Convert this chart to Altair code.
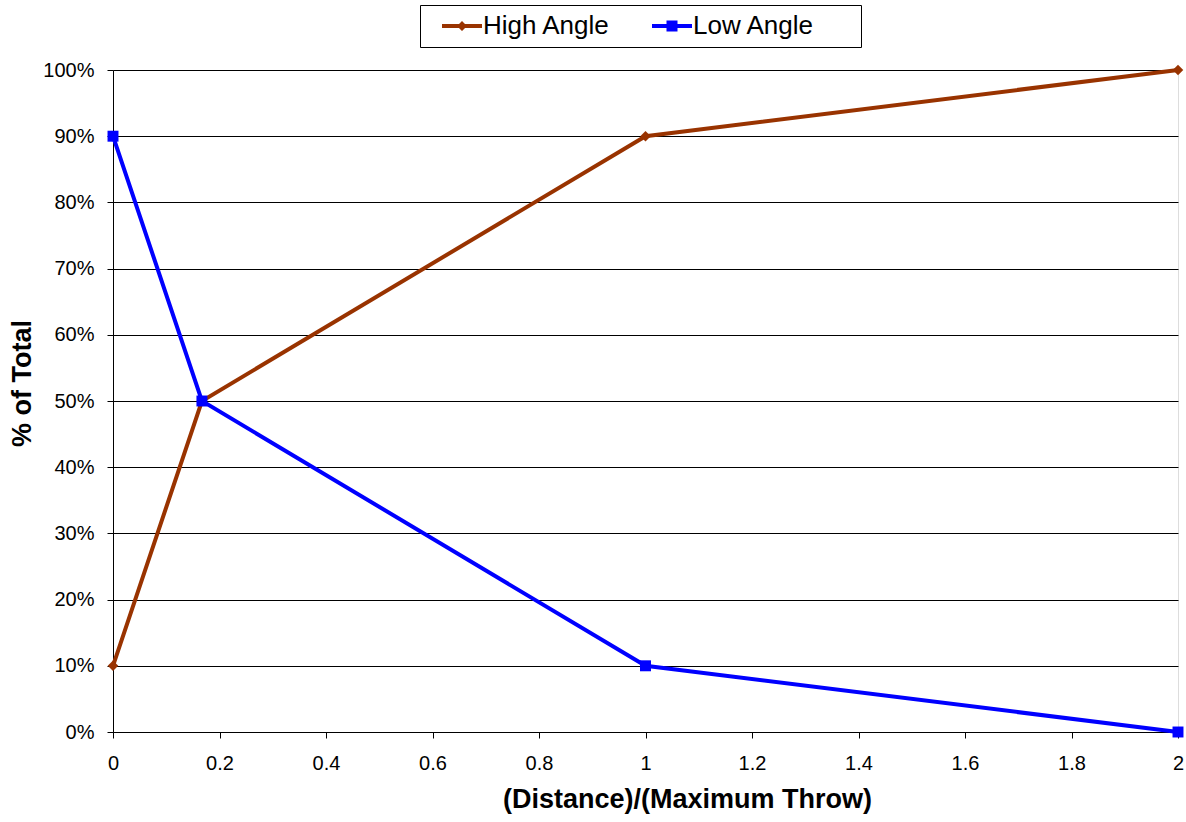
import altair as alt
import pandas as pd

# ---- data ----
ratio = [0, 0.167, 1, 2]
high_angle = [0.10, 0.50, 0.90, 1.00]
low_angle = [0.90, 0.50, 0.10, 0.00]
series_names = ["High Angle", "Low Angle"]
series_colors = ["#993300", "#0000FF"]
x_ticks = [0, 0.2, 0.4, 0.6, 0.8, 1, 1.2, 1.4, 1.6, 1.8, 2]
y_ticks = [0, 0.1, 0.2, 0.3, 0.4, 0.5, 0.6, 0.7, 0.8, 0.9, 1.0]

rows = []
for x, h in zip(ratio, high_angle):
    rows.append({"ratio": x, "share": h, "series": series_names[0]})
for x, l in zip(ratio, low_angle):
    rows.append({"ratio": x, "share": l, "series": series_names[1]})
df = pd.DataFrame(rows)

FONT = "Liberation Sans"
BLANK = chr(0x2800)  # invisible, non-whitespace filler to widen the legend box

# legend symbols: line segment + marker (custom paths)
path_high = "M0.2,-0.4L8.2,-0.4L8.2,0.4L0.2,0.4Z M4.2,-1L5.2,0L4.2,1L3.2,0Z"
path_low = "M0.2,-0.4L8.2,-0.4L8.2,0.4L0.2,0.4Z M3.1,-1.1L5.3,-1.1L5.3,1.1L3.1,1.1Z"

xenc = alt.X(
    "ratio:Q",
    scale=alt.Scale(domain=[0, 2], nice=False, zero=False),
    axis=alt.Axis(
        values=x_ticks, format="~g", title="(Distance)/(Maximum Throw)",
        grid=False, tickSize=6, labelPadding=15, titlePadding=13, titleX=574,
        labelFontSize=20, titleFontSize=27, titleFontWeight="bold",
        labelFont=FONT, titleFont=FONT, labelColor="black", titleColor="black",
        domainColor="black", tickColor="black", labelFlush=False,
    ),
)
yenc = alt.Y(
    "share:Q",
    scale=alt.Scale(domain=[0, 1], nice=False),
    axis=alt.Axis(
        values=y_ticks, format=".0%", title="% of Total",
        grid=True, gridColor="black", gridWidth=1, gridOpacity=1,
        tickSize=6, labelPadding=13, titlePadding=6, titleY=313,
        labelFontSize=20, titleFontSize=27, titleFontWeight="bold",
        labelFont=FONT, titleFont=FONT, labelColor="black", titleColor="black",
        domainColor="black", tickColor="black",
    ),
)

base = alt.Chart(df)

high_line = base.transform_filter(alt.datum.series == series_names[0]).mark_line(
    color=series_colors[0], strokeWidth=4
).encode(x=xenc, y=yenc)
high_pts = base.transform_filter(alt.datum.series == series_names[0]).mark_point(
    shape="diamond", filled=True, size=110, color=series_colors[0], opacity=1
).encode(x=xenc, y=yenc)
low_line = base.transform_filter(alt.datum.series == series_names[1]).mark_line(
    color=series_colors[1], strokeWidth=4
).encode(x=xenc, y=yenc)
low_pts = base.transform_filter(alt.datum.series == series_names[1]).mark_point(
    shape="square", filled=True, size=120, color=series_colors[1], opacity=1
).encode(x=xenc, y=yenc)

legend_def = alt.Legend(
    title=None, orient="none", legendX=307, legendY=-65, direction="horizontal",
    padding=8, columnPadding=27, labelOffset=29, symbolSize=100,
    symbolStrokeWidth=0, symbolOpacity=1, strokeColor="black", fillColor="white",
    labelFontSize=26, labelFont=FONT, labelColor="black", labelLimit=400,
    labelExpr="datum.label == 'Low Angle' ? datum.label + '" + BLANK * 2 + "' : datum.label",
)

legend_layer = base.mark_point(opacity=0, filled=True, size=100).encode(
    x=xenc, y=yenc,
    color=alt.Color("series:N", scale=alt.Scale(domain=series_names, range=series_colors),
                    legend=legend_def, sort=series_names),
    shape=alt.Shape("series:N", scale=alt.Scale(domain=series_names, range=[path_high, path_low]),
                    legend=legend_def, sort=series_names),
)

chart = alt.layer(legend_layer, high_line, high_pts, low_line, low_pts).properties(
    width=1065, height=662,
    padding={"left": 113, "top": 70, "right": 8, "bottom": 90},
    autosize=alt.AutoSizeParams(type="none"),
    background="white",
).configure_view(stroke="#808080", strokeWidth=1).configure(font=FONT)

chart.save("out.html", embed_options={"renderer": "svg", "actions": False})
